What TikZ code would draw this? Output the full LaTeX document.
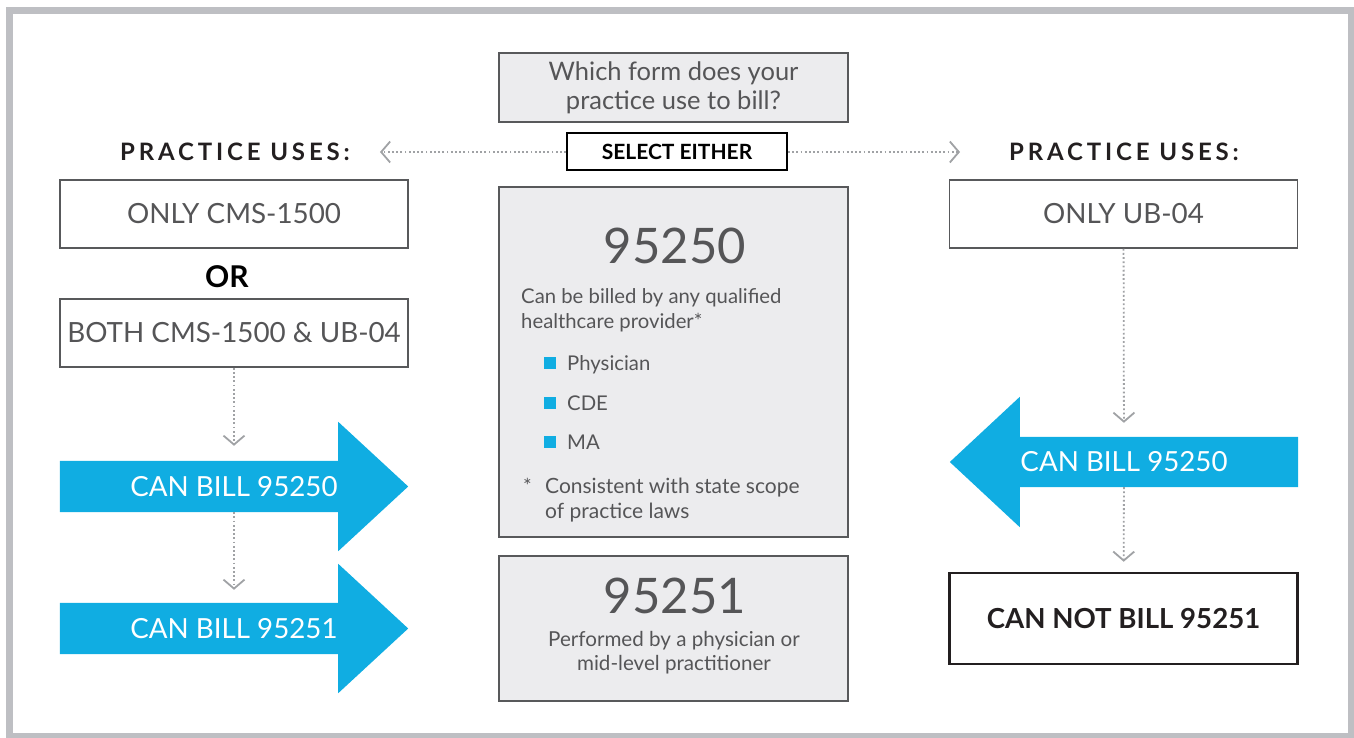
\documentclass[tikz,border=0pt]{standalone}
\usepackage{fontspec}
\setmainfont{Lato}
\usetikzlibrary{arrows.meta}
\usetikzlibrary{calc}
\usetikzlibrary{backgrounds}

\definecolor{billblue}{RGB}{16,173,226}
\definecolor{framegray}{RGB}{190,191,195}
\definecolor{boxfill}{RGB}{236,236,238}
\definecolor{boxline}{RGB}{88,89,91}
\definecolor{textgray}{RGB}{85,85,87}
\definecolor{dotgray}{RGB}{160,162,165}
\definecolor{titleblack}{RGB}{35,31,32}

\begin{document}
\begin{tikzpicture}[x=1pt,y=-1pt,
    formbox/.style={draw=boxline,line width=1.5pt,fill=white,minimum width=348pt,minimum height=68pt,inner sep=0pt,text=textgray,font=\fontsize{27.8}{30}\selectfont},
    codebox/.style={draw=boxline,line width=1.5pt,fill=boxfill,minimum width=349pt,inner sep=0pt},
    billarrow/.style={minimum width=348pt,minimum height=51pt,inner sep=0pt,text=white,font=\fontsize{27.7}{30}\selectfont},
    usestitle/.style={inner sep=0pt,text=titleblack,font=\fontsize{24}{26}\selectfont\bfseries\addfontfeature{LetterSpace=16}},
    bodytext/.style={inner sep=0pt,anchor=base west,text=textgray,font=\fontsize{20.3}{22}\selectfont},
    bignum/.style={inner sep=0pt,anchor=base,text=textgray,font=\fontsize{49}{52}\selectfont},
    bullet/.style={fill=billblue,minimum size=12pt,inner sep=0pt},
    flow/.style={draw=dotgray,line width=1.8pt,dash pattern=on 1.8pt off 2.4pt,-{Straight Barb[length=9pt,width=21pt,line width=1.8pt]}}
  ]
    \useasboundingbox (0,0) rectangle (1354,738);
    %Frame
    \draw [framegray,line width=7pt] (9,10.5) rectangle (1351,736.5);

    %Question and select
    \node [codebox,minimum height=69pt,align=center,text=textgray,font=\fontsize{25.5}{29}\selectfont] (question) at (673.5,87.5) {Which form does your\\practice use to bill?};
    \node [draw=black,line width=2pt,fill=white,minimum width=220pt,minimum height=37pt,inner sep=0pt,font=\fontsize{21}{22}\selectfont\bfseries] (select) at (677,152) {SELECT EITHER};
    \node [usestitle] (usesL) at (235,152) {PRACTICE USES:};
    \node [usestitle] (usesR) at (1124,152) {PRACTICE USES:};
    \draw [flow,shorten >=30pt] (select) -- (usesL);
    \draw [flow,shorten >=49pt] (select) -- (usesR);

    %Left column
    \node [formbox] (cms) at (234,214) {ONLY CMS-1500};
    \node [inner sep=0pt,text=black,font=\fontsize{30}{32}\selectfont\bfseries] (or) at (227,277) {OR};
    \node [formbox] (both) at (234,333) {BOTH CMS-1500 \& UB-04};
    \node [billarrow] (billA) at (234,486.5) {CAN BILL 95250};
    \node [billarrow] (billB) at (234,628.5) {CAN BILL 95251};
    \draw [flow,shorten >=15pt] (both) -- (billA);
    \draw [flow,shorten >=13pt] (billA) -- (billB);

    %Centre column
    \node [codebox,minimum height=350pt] (code1) at (673.5,362) {};
    \node [bignum] (num1) at (675,263) {95250};
    \node [bodytext] (who1) at (521,303) {Can be billed by any qualified};
    \node [bodytext] (who2) at (521,328) {healthcare provider*};
    \foreach \y/\t [count=\i] in {370/Physician,410/CDE,449/MA} {
      \node [bullet] (sq\i) at (550,\y-7) {};
      \node [bodytext] (item\i) at (567,\y) {\t};
    }
    \node [bodytext] (star) at (523,493) {*};
    \node [bodytext,font=\fontsize{21}{22}\selectfont] (note1) at (545,493) {Consistent with state scope};
    \node [bodytext,font=\fontsize{21}{22}\selectfont] (note2) at (545,518) {of practice laws};

    \node [codebox,minimum height=145pt] (code2) at (673.5,628.5) {};
    \node [bignum] (num2) at (675,613) {95251};
    \node [bodytext,anchor=base,font=\fontsize{20.6}{22}\selectfont] (perf1) at (674,646) {Performed by a physician or};
    \node [bodytext,anchor=base,font=\fontsize{20.6}{22}\selectfont] (perf2) at (674,670) {mid-level practitioner};

    %Right column
    \node [formbox] (ub) at (1123.5,214) {ONLY UB-04};
    \node [billarrow,minimum height=50pt] (billC) at (1124,462) {CAN BILL 95250};
    \node [formbox,draw=titleblack,line width=2.5pt,text=titleblack,minimum height=91pt,font=\fontsize{27.6}{30}\selectfont\bfseries] (cannot) at (1123.5,618.5) {CAN NOT BILL 95251};
    \draw [flow,shorten >=14pt] (ub) -- (billC);
    \draw [flow,shorten >=10pt] (billC) -- (cannot);

    %Arrow bodies
    \begin{scope}[on background layer]
      \fill [billblue] (billA.north west) -- ($(billA.north east)+(-70,0)$) -- ++(0,-39) -- (billA.east) -- ($(billA.south east)+(-70,39)$) -- ++(0,-39) -- (billA.south west) -- cycle;
      \fill [billblue] (billB.north west) -- ($(billB.north east)+(-70,0)$) -- ++(0,-39) -- (billB.east) -- ($(billB.south east)+(-70,39)$) -- ++(0,-39) -- (billB.south west) -- cycle;
      \fill [billblue] (billC.north east) -- ($(billC.north west)+(70,0)$) -- ++(0,-40) -- (billC.west) -- ($(billC.south west)+(70,40)$) -- ++(0,-40) -- (billC.south east) -- cycle;
    \end{scope}
\end{tikzpicture}
\end{document}
